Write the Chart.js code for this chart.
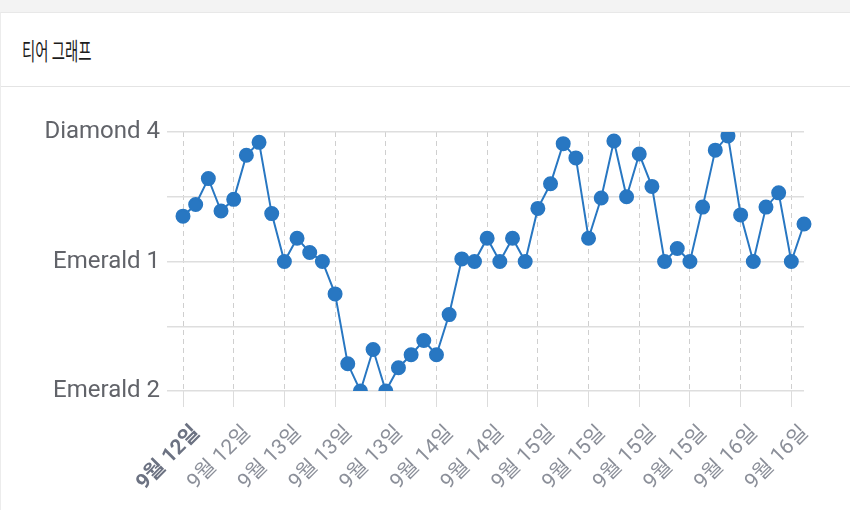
<!DOCTYPE html>
<html><head><meta charset="utf-8">
<script src="https://cdn.jsdelivr.net/npm/chart.js@4.4.1/dist/chart.umd.min.js"></script>
<style>
html,body{margin:0;padding:0;background:#f3f3f3;width:850px;height:510px;overflow:hidden}
#card{position:absolute;left:0;top:12px;width:850px;height:498px;background:#fff;border-top:1px solid #e8e8e8;border-left:1px solid #ececec;box-sizing:border-box}
#title{position:absolute;left:21px;top:0;height:74px;line-height:74px;font-size:24px;font-family:'Noto Sans CJK KR',sans-serif;color:#1c1c1c;transform:scaleX(0.6);transform-origin:0 50%;white-space:nowrap}
#sep{position:absolute;left:0;top:73px;width:850px;height:1px;background:#e4e4e4}
#wrap{position:absolute;left:-1px;top:75px;width:850px;height:422px}
</style>
</head><body>
<div id="card">
  <div id="title">티어 그래프</div>
  <div id="sep"></div>
  <div id="wrap"><canvas id="c" width="850" height="422"></canvas></div>
</div>
<script>
const categories = [
  '9월 12일','9월 12일','9월 12일','9월 12일','9월 12일','9월 12일','9월 12일','9월 12일',
  '9월 13일','9월 13일','9월 13일','9월 13일','9월 13일','9월 13일','9월 13일','9월 13일','9월 13일','9월 13일','9월 13일','9월 13일',
  '9월 14일','9월 14일','9월 14일','9월 14일','9월 14일','9월 14일','9월 14일','9월 14일',
  '9월 15일','9월 15일','9월 15일','9월 15일','9월 15일','9월 15일','9월 15일','9월 15일','9월 15일','9월 15일','9월 15일','9월 15일','9월 15일','9월 15일','9월 15일','9월 15일',
  '9월 16일','9월 16일','9월 16일','9월 16일','9월 16일','9월 16일'
];
const tierValues = [135,144,164,139,148,182,192,137,100,118,
                    107,100,75,21,0,32,0,18,28,39,
                    28,59,102,100,118,100,118,100,141,160,
                    191,180,118,149,193,150,183,158,100,110,
                    100,142,186,197,136,100,142,153,100,129];
const tierTickValues = [0, 100, 200];
const tierTickLabels = ['Emerald 2', 'Emerald 1', 'Diamond 4'];

const FONT = "Roboto, 'Noto Sans CJK KR', sans-serif";
const blue = '#2877c2';

new Chart(document.getElementById('c'), {
  type: 'line',
  data: {
    labels: categories,
    datasets: [{
      data: tierValues,
      borderColor: blue,
      backgroundColor: blue,
      pointBackgroundColor: blue,
      pointBorderColor: blue,
      borderWidth: 2,
      pointRadius: 6.5,
      tension: 0,
      fill: false
    }]
  },
  options: {
    responsive: false,
    animation: false,
    layout: { padding: { top: 44, right: 46, left: 0, bottom: 0 } },
    plugins: { legend: { display: false }, tooltip: { enabled: false } },
    scales: {
      x: {
        offset: false,
        afterFit: s => { s.height = 119; },
        grid: { color: '#cfcfcf', tickColor: '#dcdcdc', tickLength: 16, lineWidth: 1 },
        border: { display: false, dash: [5, 4] },
        ticks: {
          autoSkip: false,
          minRotation: 45, maxRotation: 45,
          padding: 14,
          labelOffset: 14,
          color: ctx => ctx.index === 0 ? '#6c7282' : '#8b8f99',
          font: ctx => ({ family: FONT, size: 21, weight: ctx.index === 0 ? 'bold' : 'normal' }),
          callback: function(v, i) { return i % 4 === 0 ? this.getLabelForValue(v) : null; }
        }
      },
      y: {
        min: 0, max: 200,
        afterFit: s => { s.width = 183; },
        grid: { color: '#dedede', tickColor: '#dedede', tickLength: 16, lineWidth: 1.5 },
        border: { display: false },
        ticks: {
          stepSize: 50,
          padding: 7,
          color: '#616369',
          font: { family: FONT, size: 24 },
          callback: v => { const k = tierTickValues.indexOf(v); return k >= 0 ? tierTickLabels[k] : ''; }
        }
      }
    }
  }
});
</script>
</body></html>
